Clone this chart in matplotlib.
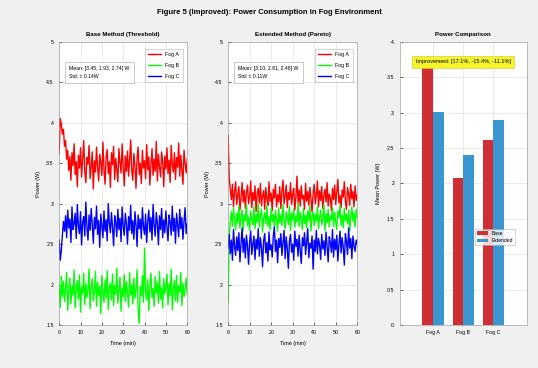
import numpy as np
import matplotlib.pyplot as plt
from matplotlib.ticker import FormatStrFormatter

plt.rcParams['font.family'] = ['Liberation Sans', 'DejaVu Sans']

# time axis (min), sampled every 0.5 min
time = np.arange(0, 60.5, 0.5)
fogs = ['Fog A', 'Fog B', 'Fog C']

base_a = [
    3.62, 4.05, 3.98, 3.86, 3.92, 3.71, 3.78, 3.55, 3.66, 3.41,
    3.58, 3.29, 3.63, 3.47, 3.74, 3.36, 3.52, 3.21, 3.60, 3.44,
    3.69, 3.33, 3.55, 3.78, 3.40, 3.26, 3.57, 3.49, 3.72, 3.31,
    3.46, 3.64, 3.18, 3.53, 3.39, 3.70, 3.45, 3.28, 3.61, 3.50,
    3.35, 3.76, 3.42, 3.24, 3.58, 3.67, 3.37, 3.52, 3.20, 3.63,
    3.48, 3.71, 3.30, 3.56, 3.43, 3.27, 3.68, 3.51, 3.38, 3.74,
    3.45, 3.22, 3.59, 3.40, 3.65, 3.34, 3.54, 3.79, 3.41, 3.29,
    3.62, 3.47, 3.19, 3.57, 3.70, 3.36, 3.50, 3.25, 3.66, 3.44,
    3.53, 3.31, 3.73, 3.42, 3.58, 3.23, 3.49, 3.68, 3.35, 3.55,
    3.40, 3.77, 3.28, 3.61, 3.46, 3.33, 3.64, 3.52, 3.21, 3.59,
    3.43, 3.69, 3.37, 3.54, 3.26, 3.72, 3.48, 3.39, 3.63, 3.30,
    3.57, 3.45, 3.75, 3.34, 3.60, 3.41, 3.24, 3.66, 3.50, 3.38,
    3.55]
base_b = [
    1.98, 1.72, 2.10, 1.85, 2.04, 1.79, 1.95, 2.15, 1.68, 1.92,
    2.08, 1.76, 1.99, 1.87, 2.18, 1.71, 1.94, 2.05, 1.82, 2.12,
    1.66, 1.97, 1.89, 2.14, 1.75, 2.01, 1.84, 1.93, 2.19, 1.70,
    1.96, 2.07, 1.80, 1.91, 2.16, 1.73, 2.03, 1.86, 1.98, 1.64,
    2.11, 1.90, 1.78, 2.06, 1.83, 2.17, 1.69, 1.95, 2.02, 1.81,
    2.13, 1.74, 1.99, 1.88, 2.20, 1.77, 1.93, 2.09, 1.67, 1.96,
    1.85, 2.12, 1.79, 2.04, 1.90, 1.72, 2.15, 1.87, 2.00, 1.76,
    2.08, 1.83, 1.94, 2.18, 1.70, 1.52, 1.97, 1.86, 2.11, 1.78,
    2.45, 1.92, 1.81, 2.06, 1.68, 1.99, 2.14, 1.84, 1.95, 1.73,
    2.10, 1.89, 2.03, 1.77, 2.16, 1.82, 1.96, 1.71, 2.07, 1.88,
    1.97, 2.13, 1.75, 2.01, 1.86, 2.19, 1.69, 1.94, 2.05, 1.80,
    2.11, 1.78, 1.98, 1.91, 2.15, 1.74, 2.02, 1.85, 1.93, 2.08,
    1.87]
base_c = [
    2.55, 2.30, 2.42, 2.61, 2.78, 2.66, 2.85, 2.58, 2.92, 2.70,
    2.81, 2.52, 2.96, 2.68, 2.75, 2.88, 2.57, 2.99, 2.72, 2.63,
    2.90, 2.49, 2.77, 2.84, 2.60, 3.02, 2.71, 2.55, 2.86, 2.67,
    2.94, 2.74, 2.51, 2.83, 2.69, 2.97, 2.62, 2.79, 2.46, 2.87,
    2.73, 2.58, 2.91, 2.66, 2.80, 2.54, 3.00, 2.76, 2.64, 2.89,
    2.70, 2.48, 2.85, 2.77, 2.59, 2.93, 2.68, 2.82, 2.53, 2.96,
    2.72, 2.61, 2.88, 2.75, 2.50, 2.84, 2.67, 2.98, 2.63, 2.79,
    2.56, 2.90, 2.74, 2.47, 2.86, 2.69, 2.81, 2.57, 2.95, 2.71,
    2.62, 2.87, 2.52, 2.78, 2.92, 2.65, 2.83, 2.55, 2.99, 2.73,
    2.60, 2.89, 2.76, 2.49, 2.85, 2.68, 2.94, 2.58, 2.80, 2.64,
    2.91, 2.71, 2.54, 2.86, 2.77, 2.61, 2.97, 2.66, 2.82, 2.51,
    2.88, 2.74, 2.59, 2.93, 2.69, 2.83, 2.56, 2.78, 2.95, 2.63,
    2.75]

ext_a = [
    3.85, 3.32, 3.18, 3.05, 3.24, 2.96, 3.15, 3.27, 2.99, 3.11,
    3.21, 2.92, 3.08, 3.26, 3.02, 3.17, 2.94, 3.13, 3.23, 3.00,
    3.09, 3.28, 2.95, 3.14, 3.04, 3.22, 2.90, 3.12, 3.19, 3.01,
    3.25, 2.97, 3.10, 3.16, 2.93, 3.20, 3.06, 2.98, 3.27, 3.03,
    3.13, 2.91, 3.18, 3.07, 3.24, 2.96, 3.11, 3.02, 3.21, 2.94,
    3.15, 3.29, 3.00, 3.09, 3.23, 2.95, 3.14, 3.05, 3.26, 2.99,
    3.12, 3.19, 2.92, 3.08, 3.34, 3.01, 3.17, 2.97, 3.22, 3.06,
    3.10, 2.93, 3.25, 3.03, 3.15, 2.98, 3.20, 3.07, 2.90, 3.13,
    3.24, 3.00, 3.11, 3.28, 2.96, 3.16, 3.04, 3.21, 2.94, 3.09,
    3.18, 3.02, 3.26, 2.97, 3.12, 3.07, 2.91, 3.19, 3.05, 3.23,
    2.99, 3.14, 3.30, 3.01, 3.10, 2.95, 3.17, 3.08, 3.27, 3.03,
    2.93, 3.20, 3.12, 2.98, 3.24, 3.06, 3.15, 2.96, 3.22, 3.04,
    3.11]
ext_b = [
    1.77, 2.55, 2.78, 2.90, 2.72, 2.95, 2.81, 2.68, 2.88, 2.76,
    2.97, 2.70, 2.84, 2.92, 2.66, 2.86, 2.79, 2.99, 2.73, 2.83,
    2.67, 2.91, 2.80, 2.74, 2.96, 2.69, 2.87, 2.77, 3.00, 2.71,
    2.85, 2.93, 2.65, 2.82, 2.89, 2.75, 2.98, 2.72, 2.84, 2.68,
    2.94, 2.78, 2.87, 2.70, 2.92, 2.81, 2.66, 2.95, 2.76, 2.86,
    2.73, 2.99, 2.79, 2.69, 2.90, 2.83, 2.74, 2.97, 2.67, 2.88,
    2.80, 2.93, 2.71, 2.85, 2.77, 3.01, 2.72, 2.89, 2.82, 2.68,
    2.94, 2.75, 2.86, 2.70, 2.91, 2.79, 2.97, 2.66, 2.84, 2.90,
    2.73, 2.87, 2.78, 2.96, 2.69, 2.83, 2.92, 2.74, 2.81, 2.99,
    2.67, 2.88, 2.76, 2.93, 2.71, 2.85, 2.80, 2.95, 2.72, 2.89,
    2.77, 2.68, 2.91, 2.83, 2.98, 2.73, 2.86, 2.70, 2.94, 2.79,
    2.87, 2.75, 2.92, 2.66, 2.84, 2.96, 2.78, 2.89, 2.71, 2.93,
    2.82]
ext_c = [
    2.45, 2.62, 2.38, 2.55, 2.30, 2.68, 2.47, 2.36, 2.59, 2.42,
    2.64, 2.28, 2.51, 2.70, 2.40, 2.57, 2.33, 2.61, 2.48, 2.25,
    2.53, 2.66, 2.37, 2.50, 2.60, 2.31, 2.56, 2.44, 2.69, 2.35,
    2.58, 2.46, 2.22, 2.54, 2.63, 2.39, 2.52, 2.29, 2.65, 2.43,
    2.49, 2.34, 2.60, 2.71, 2.41, 2.55, 2.27, 2.57, 2.46, 2.63,
    2.36, 2.52, 2.67, 2.32, 2.59, 2.44, 2.20, 2.54, 2.62, 2.40,
    2.50, 2.30, 2.66, 2.47, 2.56, 2.35, 2.61, 2.42, 2.26, 2.58,
    2.48, 2.64, 2.37, 2.53, 2.69, 2.33, 2.51, 2.45, 2.60, 2.19,
    2.55, 2.41, 2.67, 2.38, 2.57, 2.49, 2.31, 2.62, 2.44, 2.54,
    2.36, 2.65, 2.47, 2.28, 2.59, 2.52, 2.40, 2.68, 2.34, 2.56,
    2.43, 2.61, 2.29, 2.50, 2.66, 2.39, 2.58, 2.46, 2.24, 2.63,
    2.53, 2.37, 2.70, 2.45, 2.57, 2.32, 2.60, 2.48, 2.41, 2.55,
    2.50]

# bar chart values (mean power, W)
bar_base = [3.63, 2.08, 2.61]
bar_ext = [3.01, 2.40, 2.90]

line_colors = ['#ff0000', '#00ff00', '#0000ff']
bg = '#f0f0f0'

fig = plt.figure(figsize=(5.38, 3.68), dpi=100, facecolor=bg)
fig.suptitle('Figure 5 (Improved): Power Consumption in Fog Environment',
             fontsize=5.5, fontweight='bold', y=0.975)

ax1 = fig.add_axes([0.110, 0.117, 0.238, 0.769])
ax2 = fig.add_axes([0.424, 0.117, 0.240, 0.769])
ax3 = fig.add_axes([0.743, 0.117, 0.236, 0.769])


def style(ax):
    ax.tick_params(direction='in', labelsize=3.8, length=2, width=0.4, pad=4)
    ax.grid(True, color='#dcdcdc', linewidth=0.4)
    ax.set_axisbelow(True)
    ax.yaxis.set_major_formatter(FormatStrFormatter('%g'))
    for s in ax.spines.values():
        s.set_linewidth(0.4)
        s.set_color('#909090')


def line_panel(ax, series, title, mean_txt, std_txt):
    for vals, c, name in zip(series, line_colors, fogs):
        ax.plot(time, vals, color=c, linewidth=1.0, label=name)
    ax.set_xlim(0, 60)
    ax.set_ylim(1.5, 5)
    ax.set_xticks(np.arange(0, 61, 10))
    ax.set_yticks(np.arange(1.5, 5.01, 0.5))
    ax.set_title(title, fontsize=4.4, fontweight='bold', pad=4)
    ax.set_xlabel('Time (min)', fontsize=4)
    ax.set_ylabel('Power (W)', fontsize=4)
    style(ax)
    leg = ax.legend(loc='upper right', fontsize=3.8, frameon=True, fancybox=False,
                    edgecolor='#a0a0a0', handlelength=2.4, borderpad=0.6,
                    labelspacing=1.1, bbox_to_anchor=(0.985, 0.985))
    leg.get_frame().set_linewidth(0.4)
    ax.text(0.08, 0.915, mean_txt + '\n' + std_txt, transform=ax.transAxes,
            fontsize=3.7, va='top', ha='left', linespacing=1.8,
            bbox=dict(boxstyle='square,pad=0.8', fc='white', ec='#a0a0a0', lw=0.4))


line_panel(ax1, [base_a, base_b, base_c], 'Base Method (Threshold)',
           'Mean: [3.45, 1.93, 2.74] W', 'Std: \u00b1 0.14W')
line_panel(ax2, [ext_a, ext_b, ext_c], 'Extended Method (Pareto)',
           'Mean: [3.10, 2.81, 2.48] W', 'Std: \u00b1 0.11W')

# bar comparison
x = np.arange(1, len(fogs) + 1)
w = 0.35
ax3.bar(x - w / 2, bar_base, w, color='#cf2f33', label='Base')
ax3.bar(x + w / 2, bar_ext, w, color='#3a96d0', label='Extended')
ax3.set_xlim(-0.1, 4.1)
ax3.set_ylim(0, 4)
ax3.set_xticks(x)
ax3.set_xticklabels(fogs)
ax3.set_yticks(np.arange(0, 4.01, 0.5))
ax3.set_title('Power Comparison', fontsize=4.4, fontweight='bold', pad=4)
ax3.set_ylabel('Mean Power (W)', fontsize=4)
style(ax3)
leg = ax3.legend(loc='center', bbox_to_anchor=(0.75, 0.31), fontsize=3.6,
                 fancybox=False, edgecolor='#a0a0a0', handlelength=2.2,
                 borderpad=0.4)
leg.get_frame().set_linewidth(0.4)

impr = [(b - e) / b * 100 for b, e in zip(bar_base, bar_ext)]
ax3.text(0.5, 0.93, 'Improvement: [%.1f%%, %.1f%%, %.1f%%]' % tuple(impr),
         transform=ax3.transAxes, fontsize=4.0, ha='center', va='center',
         bbox=dict(boxstyle='square,pad=0.6', fc='#f5f52a', ec='#c8c832', lw=0.4))

fig.savefig('out.png', dpi=100, facecolor=bg)
